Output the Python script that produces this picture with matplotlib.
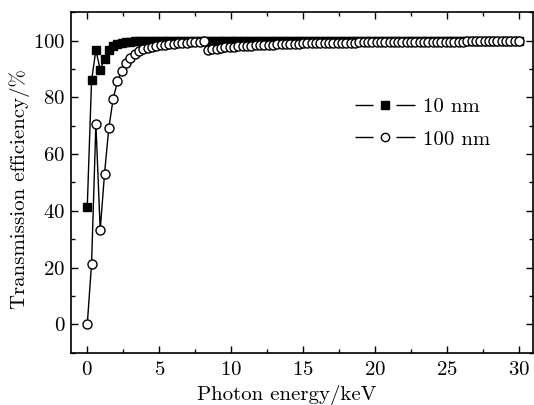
import numpy as np
import matplotlib
matplotlib.use("Agg")
import matplotlib.pyplot as plt
from matplotlib.ticker import MultipleLocator
from matplotlib.lines import Line2D
from matplotlib.legend_handler import HandlerTuple

plt.rcParams['font.family'] = 'serif'
plt.rcParams['font.serif'] = ['cmr10', 'DejaVu Serif']
plt.rcParams['mathtext.fontset'] = 'cm'
plt.rcParams['axes.formatter.use_mathtext'] = True

# Photon energy grid (keV)
energy = np.linspace(0, 30, 101)

# Transmission efficiency (%) for 10 nm
eff_10nm = [
    41.4, 86.0, 96.7, 89.7, 93.6, 96.8, 98.0, 98.7, 99.1, 99.4,
    99.6, 99.7, 99.8, 99.85, 99.9, 99.9, 99.95, 99.95, 99.95, 99.95,
    100.0, 100.0, 100.0, 100.0, 100.0, 100.0, 100.0, 99.95, 99.9, 99.9,
    99.9, 99.9, 99.95, 99.95, 99.95, 99.95, 99.95, 100.0, 100.0, 100.0,
    100.0, 100.0, 100.0, 100.0, 100.0, 100.0, 100.0, 100.0, 100.0, 100.0,
    100.0, 100.0, 100.0, 100.0, 100.0, 100.0, 100.0, 100.0, 100.0, 100.0,
    100.0, 100.0, 100.0, 100.0, 100.0, 100.0, 100.0, 100.0, 100.0, 100.0,
    100.0, 100.0, 100.0, 100.0, 100.0, 100.0, 100.0, 100.0, 100.0, 100.0,
    100.0, 100.0, 100.0, 100.0, 100.0, 100.0, 100.0, 100.0, 100.0, 100.0,
    100.0, 100.0, 100.0, 100.0, 100.0, 100.0, 100.0, 100.0, 100.0, 100.0,
    100.0,
]

# Transmission efficiency (%) for 100 nm
eff_100nm = [
    0.0, 21.4, 70.7, 33.2, 53.1, 69.3, 79.4, 85.6, 89.4, 92.2,
    94.0, 95.3, 96.2, 96.9, 97.4, 97.8, 98.1, 98.35, 98.6, 98.8,
    98.95, 99.1, 99.2, 99.3, 99.4, 99.5, 99.55, 99.8, 96.6, 96.9,
    97.15, 97.35, 97.55, 97.7, 97.85, 97.95, 98.05, 98.15, 98.25, 98.35,
    98.4, 98.5, 98.55, 98.6, 98.7, 98.75, 98.8, 98.85, 98.9, 98.95,
    99.0, 99.02, 99.05, 99.08, 99.1, 99.12, 99.15, 99.18, 99.2, 99.22,
    99.25, 99.27, 99.3, 99.32, 99.34, 99.36, 99.38, 99.4, 99.42, 99.44,
    99.46, 99.48, 99.5, 99.51, 99.52, 99.53, 99.54, 99.55, 99.56, 99.57,
    99.58, 99.59, 99.6, 99.61, 99.62, 99.63, 99.64, 99.65, 99.66, 99.67,
    99.68, 99.69, 99.7, 99.7, 99.71, 99.72, 99.72, 99.73, 99.74, 99.74,
    99.75,
]

series_labels = ['10 nm', '100 nm']
x_ticks = [0, 5, 10, 15, 20, 25, 30]
y_ticks = [0, 20, 40, 60, 80, 100]

FS = 15

fig = plt.figure(figsize=(5.34, 4.05), dpi=100)
ax = fig.add_axes([0.1324, 0.129, 0.8652, 0.841])

ax.plot(energy, eff_10nm, '-', color='black', lw=1.0, marker='s', ms=6,
        mfc='black', mec='black', zorder=2)
ax.plot(energy, eff_100nm, '-', color='black', lw=1.0, marker='o', ms=6.5,
        mfc='white', mec='black', mew=1.0, zorder=3)

ax.set_xlim(-1.15, 30.95)
ax.set_ylim(-10, 110)
ax.set_xticks(x_ticks)
ax.set_yticks(y_ticks)
ax.xaxis.set_minor_locator(MultipleLocator(2.5))
ax.yaxis.set_minor_locator(MultipleLocator(10))
ax.tick_params(which='both', direction='in', top=True, right=True,
               labeltop=False, labelright=False, labelsize=FS, width=1.0)
ax.tick_params(which='major', length=5)
ax.tick_params(axis='x', which='major', pad=6)
ax.tick_params(axis='y', which='major', pad=4)
ax.tick_params(which='minor', length=3)
for s in ax.spines.values():
    s.set_linewidth(1.2)

ax.set_xlabel('Photon energy/keV', fontsize=FS)
ax.xaxis.set_label_coords(0.467, -0.139, transform=ax.transAxes)
ax.xaxis.label.set_va('baseline')
ax.set_ylabel('Transmission efficiency/%', fontsize=FS)
ax.yaxis.set_label_coords(-0.099, 0.48, transform=ax.transAxes)
ax.yaxis.label.set_va('baseline')

# Legend handles: line with a gap around the marker
dash = (0, (13, 16.5, 14))
h_lines = [Line2D([], [], color='black', lw=1.0, linestyle=dash) for _ in range(2)]
h_marks = [Line2D([], [], linestyle='none', marker='s', ms=5.8, mfc='black', mec='black'),
           Line2D([], [], linestyle='none', marker='o', ms=6.0, mfc='white', mec='black', mew=1.0)]
handles = [(h_lines[0], h_marks[0]), (h_lines[1], h_marks[1])]
ax.legend(handles, series_labels, handler_map={tuple: HandlerTuple(ndivide=1)},
          loc='upper left', bbox_to_anchor=(0.615, 0.749), frameon=False,
          fontsize=FS, handlelength=2.88, handletextpad=0.37,
          labelspacing=0.67, borderpad=0, borderaxespad=0)

fig.savefig('out.png', dpi=100)
